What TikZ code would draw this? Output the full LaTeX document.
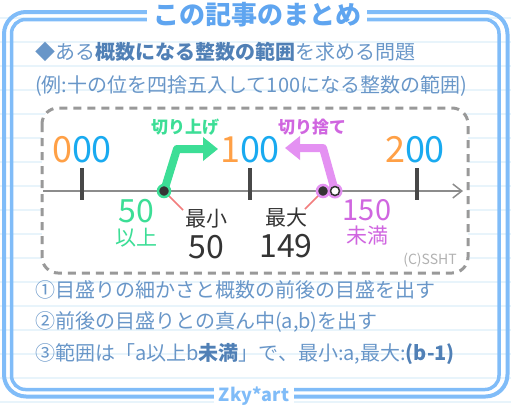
\documentclass[tikz,border=0pt]{standalone}
\usepackage{fontspec}
\setmainfont{Noto Sans CJK JP}
\usetikzlibrary{arrows.meta,positioning}
\definecolor{frameblue}{RGB}{128,188,248}
\definecolor{titleblue}{RGB}{95,165,240}
\definecolor{textblue}{RGB}{104,150,200}
\definecolor{boldblue}{RGB}{80,128,182}
\definecolor{numorange}{RGB}{255,160,70}
\definecolor{numblue}{RGB}{25,170,240}
\definecolor{upgreen}{RGB}{60,222,150}
\definecolor{cutpurple}{RGB}{228,145,242}
\definecolor{cuttext}{RGB}{208,102,224}
\definecolor{darktext}{RGB}{52,52,52}
\definecolor{pointer}{RGB}{242,125,125}
\definecolor{ruled}{RGB}{232,244,251}
\newcommand\kw[1]{\textbf{\textcolor{boldblue}{#1}}}
\begin{document}
\begin{tikzpicture}[x=1pt,y=-1pt,
    body/.style={anchor=west,inner sep=0,text=textblue,font=\fontsize{20}{24}\selectfont},
    axisnum/.style={inner sep=0,text=numblue,font=\fontsize{36}{40}\selectfont},
    word/.style={inner sep=0,font=\fontsize{21}{24}\selectfont},
    value/.style={inner sep=0,font=\fontsize{32}{36}\selectfont},
    dot/.style={circle,inner sep=0,minimum size=12,fill=darktext,line width=2.5},
    bigarrow/.style={line width=8,line join=round,-{Triangle[length=15pt,width=23pt]}}]
  \useasboundingbox (0,0) rectangle (511,408);
  \foreach \y in {18,42,...,402}
    \draw[ruled,line width=1.5] (0,\y) -- (511,\y);
  \draw[frameblue,line width=4,rounded corners=22] (4,12) rectangle (507.5,396.5);
  \draw[frameblue,line width=3.5,rounded corners=14] (11.5,19.5) rectangle (499,389.5);
  \node[
    fill=white,
    inner xsep=6,
    inner ysep=1,
    text=titleblue,
    font=\bfseries\fontsize{26}{30}\selectfont] (title) at (257,15) {この記事のまとめ};
  \node[
    fill=white,
    inner xsep=5,
    inner ysep=1,
    text=frameblue,
    font=\bfseries\fontsize{18}{20}\selectfont] (sign) at (254,396) {Zky*art};

  \node[body] (q1) at (35,52) {◆ある\kw{概数になる整数の範囲}を求める問題};
  \node[body] (q2) at (35,86) {(例:十の位を四捨五入して100になる整数の範囲)};

  \draw[
    draw=black!40,
    fill=white,
    line width=3,
    dash pattern=on 8pt off 6pt,
    rounded corners=16] (42,108) rectangle (468,273);

  \coordinate (axisL) at (43,191);
  \coordinate (axisR) at (463,191);
  \draw[black!45,line width=1.5,-{Straight Barb[length=9pt,width=14pt]}] (axisL) -- (axisR);
  \foreach \x in {82,250,417}
    \draw[darktext!90,line width=3.5] (\x,168) -- (\x,200);

  \node[axisnum] (n0) at (82,150) {\textcolor{numorange}{0}00};
  \node[axisnum] (n1) at (250,150) {\textcolor{numorange}{1}00};
  \node[axisnum] (n2) at (415,150) {\textcolor{numorange}{2}00};

  \coordinate (minat) at (164,191);
  \coordinate (upbend) at (177,149);
  \coordinate (uptip) at (218,149);
  \coordinate (capat) at (335,191);
  \coordinate (maxat) at (323,191);
  \coordinate (cutbend) at (323,148);
  \coordinate (cuttip) at (285,148);
  \coordinate (lowptr) at (183,210);
  \coordinate (highptr) at (305,209);

  \draw[bigarrow,upgreen] (minat) -- (upbend) -- (uptip);
  \draw[bigarrow,cutpurple] (capat) -- (cutbend) -- (cuttip);
  \draw[pointer,line width=1.5] (minat) -- (lowptr);
  \draw[pointer,line width=1.5] (maxat) -- (highptr);

  \node[dot,draw=upgreen] (low) at (minat) {};
  \node[circle,inner sep=0,minimum size=15,fill=cutpurple] (caphalo) at (capat) {};
  \node[dot,draw=cutpurple] (high) at (maxat) {};
  \node[circle,inner sep=0,minimum size=9,fill=white,draw=darktext,line width=1.5] (cap) at (capat) {};

  \node[inner sep=0,text=upgreen,font=\bfseries\fontsize{17}{20}\selectfont] (upname) at (185,127) {切り上げ};
  \node[inner sep=0,text=cuttext,font=\bfseries\fontsize{17}{20}\selectfont] (cutname) at (312,127) {切り捨て};

  \node[value,text=upgreen] (lowval) at (136,211) {50};
  \node[word,text=upgreen,below=5pt of lowval] (lowword) {以上};
  \node[word,text=darktext] (minword) at (206,219) {最小};
  \node[value,text=darktext,below=6pt of minword] (minval) {50};
  \node[word,text=darktext] (maxword) at (286,218) {最大};
  \node[value,text=darktext,below=6pt of maxword] (maxval) {149};
  \node[value,text=cuttext,font=\fontsize{29}{32}\selectfont] (capval) at (367,210) {150};
  \node[word,text=cuttext,below=5pt of capval] (capword) {未満};
  \node[inner sep=0,text=black!30,font=\fontsize{14}{16}\selectfont] (credit) at (430,260) {(C)SSHT};

  \node[body] (s1) at (35,290) {①目盛りの細かさと概数の前後の目盛を出す};
  \node[body] (s2) at (35,322) {②前後の目盛りとの真ん中(a,b)を出す};
  \node[body] (s3) at (35,354) {③範囲は「a以上b\kw{未満}」で、最小:a,最大:\kw{(b-1)}};
\end{tikzpicture}
\end{document}
